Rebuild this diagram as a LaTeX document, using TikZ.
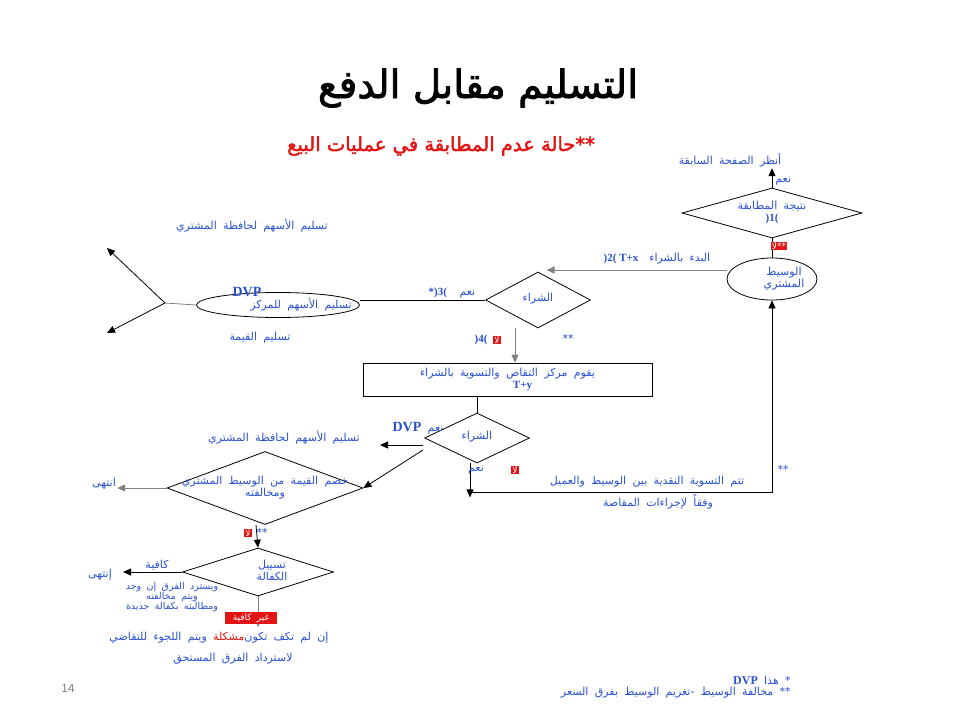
\documentclass[tikz,border=0pt]{standalone}
\usepackage{fontspec}
\setmainfont{Liberation Serif}
\newfontfamily\arabicfont[Script=Arabic, WordSpace=1.8]{DejaVu Sans}
\newfontfamily\arabicbold[Script=Arabic, FakeBold=2]{DejaVu Sans}
\newfontfamily\sansfont{Liberation Sans}
\TeXXeTstate=1
\usetikzlibrary{arrows.meta, positioning, shapes.geometric}
\definecolor{txtblue}{RGB}{40,80,210}
\definecolor{tagred}{RGB}{228,20,20}
\newcommand\artxt[1]{\beginR#1\endR}
\newcommand\lat[1]{{\rmfamily\bfseries #1}}
\newcommand\dtext[2][0pt]{\makebox[0pt]{\hspace*{#1}\begin{tabular}{@{}c@{}}#2\end{tabular}}}
\tikzset{
  lbl/.style={text=txtblue, font=\arabicfont\fontsize{11}{12}\selectfont, inner sep=1pt, align=center},
  tag/.style={fill=tagred, text=white, font=\arabicfont\fontsize{9}{10}\selectfont, inner sep=1pt},
  dia/.style={diamond, draw, aspect=2.5, inner sep=0pt, lbl},
  oval/.style={ellipse, draw, inner sep=0pt, lbl},
  arr/.style={-{Triangle[length=8pt,width=7pt]}},
  gline/.style={draw=gray}
}
\begin{document}
\begin{tikzpicture}[x=1pt, y=-1pt, line width=0.8pt]
  \useasboundingbox (0,0) rectangle (960,720);
  % Title
  \node (title) at (478,88) {\arabicbold\fontsize{39}{44}\selectfont\artxt{التسليم مقابل الدفع}};
  \node[text=tagred] (subtitle) at (441,146) {\arabicbold\fontsize{19.5}{22}\selectfont\artxt{حالة عدم المطابقة في عمليات البيع}**};

  % Top right: matching result and broker
  \node[lbl] (seeprev) at (730,160) {\artxt{أنظر الصفحة السابقة}};
  \node[dia, minimum width=180, minimum height=50] (match) at (772,213) {\dtext{\artxt{نتيجة المطابقة}\\\lat{)1(}}};
  \node[oval, minimum width=90, minimum height=42] (broker) at (772,279) {\dtext[24pt]{\artxt{الوسيط}\\\artxt{المشتري}}};
  \node[lbl, anchor=west] (yes1) at (774,181) {\artxt{نعم}};
  \draw[arr] (match.north) -- (match.north |- seeprev.south);
  \draw (match.south) -- (broker.north);
  \node[tag] (tagA) at (779,246) {\artxt{لا}**};

  % First purchase
  \node[dia, minimum width=105, minimum height=56] (buy1) at (538,300) {\raisebox{6pt}{\artxt{الشراء}}};
  \node[lbl] (startlbl) at (657,259) {\lat{)2( T+x}\quad\artxt{البدء بالشراء}};
  \draw[arr, gline] ([yshift=9pt]broker.west) -- ++(-180,0) coordinate (buyin);

  % Delivery to the centre
  \node[oval, minimum width=163, minimum height=25] (dvpc) at (278,305) {\dtext[46pt]{\artxt{تسليم الأسهم للمركز}}};
  \node[text=txtblue, font=\bfseries\fontsize{14}{14}\selectfont, inner sep=0pt] (dvp1) at (247,292) {DVP};
  \node[lbl] (yes3) at (452,293) {\lat{*)3(}\ \ \artxt{نعم}};
  \draw (buy1.west) -- (buy1.west -| dvpc.east);
  \coordinate (fork) at (165,303);
  \draw[gline] (dvpc.west) -- (fork);
  \draw[arr] (fork) -- (107,248);
  \draw[arr] (fork) -- (107,333);
  \node[lbl] (tocust1) at (252,226) {\artxt{تسليم الأسهم لحافظة المشتري}};
  \node[lbl] (tovalue) at (260,338) {\artxt{تسليم القيمة}};

  % Clearing house
  \node[draw, lbl, minimum width=289, minimum height=33] (clearing) at (507.5,379.5)
    {\artxt{يقوم مركز التقاص والتسوية بالشراء}\\\hspace*{30pt}\lat{T+y}};
  \draw[arr, gline] ([xshift=-23pt]buy1.south) -- ([xshift=-23pt]buy1.south |- clearing.north);
  \node[lbl] (no4) at (481,340) {\lat{)4(}};
  \node[tag] (tag4) at (497,340) {\artxt{لا}};
  \node[lbl] (star4) at (568,338) {**};

  % Second purchase
  \node[dia, minimum width=105, minimum height=50] (buy2) at (477,438) {\raisebox{5pt}{\artxt{الشراء}}};
  \draw (clearing.south -| buy2.north) -- (buy2.north);
  \node[lbl] (dvplbl2) at (418,428) {{\rmfamily\bfseries\fontsize{14}{14}\selectfont DVP} \artxt{نعم}};
  \node[lbl] (tocust2) at (284,438) {\artxt{تسليم الأسهم لحافظة المشتري}};
  \coordinate (b2a) at (423,445);
  \coordinate (b2b) at (423,450);
  \draw[arr] (b2a) -- (380,445);

  % Deduction from the broker
  \node[dia, minimum width=196, minimum height=73] (deduct) at (265,488)
    {\dtext{\artxt{خصم القيمة من الوسيط المشتري}\\\artxt{ومخالفته}}};
  \draw[arr] (b2b) -- (deduct.east);
  \node[lbl] (ended1) at (104,484) {\artxt{انتهى}};
  \draw[arr, gline] (deduct.west) -- (ended1.east |- deduct.west);

  % Guarantee
  \node[dia, minimum width=151, minimum height=48] (liquid) at (258,572)
    {\dtext[28pt]{\artxt{تسييل}\\\artxt{الكفالة}}};
  \draw[arr] ([xshift=-9pt]deduct.south) -- (liquid.north);
  \node[tag] (tag5) at (248,533) {\artxt{لا}};
  \node[lbl] (star5) at (262,532) {**};
  \node[lbl] (suff) at (157,565) {\artxt{كافية}};
  \draw[arr] (liquid.west) -- (123,572);
  \node[lbl] (ended2) at (100,575) {\artxt{إنتهى}};
  \node[lbl, font=\arabicfont\fontsize{9.5}{10}\selectfont] (refund) at (172,597)
    {\artxt{ويسترد الفرق إن وجد}\\\artxt{ويتم مخالفته}\\\artxt{ومطالبته بكفالة جديدة}};
  \coordinate (unsuff) at (258,627);
  \draw[arr, gline] (liquid.south) -- (unsuff);
  \node[tag, minimum width=52] (tag7) at (251,618) {\artxt{غير كافية}};
  \node[lbl] (problem) at (219,638)
    {\artxt{ويتم اللجوء للتقاضي} \textcolor{tagred}{\artxt{مشكلة}}\artxt{إن لم تكف تكون}};
  \node[lbl] (recover) at (233,659) {\artxt{لاسترداد الفرق المستحق}};

  % Cash settlement back to the broker
  \coordinate (loop) at (470,492);
  \draw[arr] (buy2.south -| loop) -- ++(0,34);
  \draw[arr] (loop) -| (broker.south);
  \node[lbl] (yes6) at (476,470) {\artxt{نعم}};
  \node[tag] (tag6) at (515,470) {\artxt{لا}};
  \node[lbl] (star6) at (783,469) {**};
  \node[lbl] (settle) at (647,482) {\artxt{تتم التسوية النقدية بين الوسيط والعميل}};
  \node[lbl] (perclear) at (658,502) {\artxt{وفقاً لإجراءات المقاصة}};

  % Footer
  \node[text=gray, font=\sansfont\fontsize{12}{12}\selectfont] (page) at (68,688) {14};
  \node[lbl, anchor=east] (fn1) at (792,680) {{\rmfamily\bfseries\fontsize{12}{12}\selectfont DVP} \artxt{هذا} *};
  \node[lbl, anchor=east] (fn2) at (792,693) {\artxt{مخالفة الوسيط -تغريم الوسيط بفرق السعر} **};
\end{tikzpicture}
\end{document}
